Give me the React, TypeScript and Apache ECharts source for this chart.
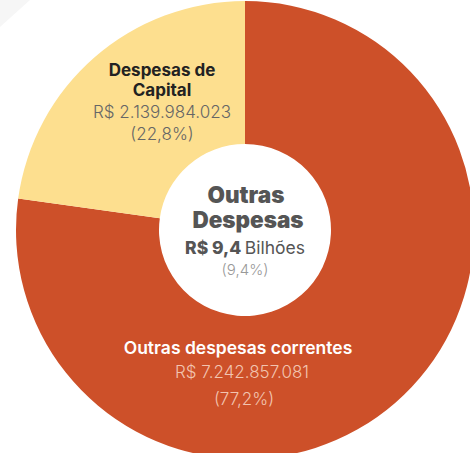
import React, { useEffect, useRef } from "react";
import * as echarts from "echarts";

const categories = ["Outras despesas correntes", "Despesas de Capital"];
const values = [7242857081, 2139984023];
const colors = ["#CD5029", "#FDDF8F"];
const centerTitle = ["Outras", "Despesas"];
const centerAmount = "R$ 9,4";
const centerUnit = "Bilhões";
const centerShare = "9,4%";

const fmtBRL = (v: number) =>
  "R$ " + String(Math.round(v)).replace(/\B(?=(\d{3})+(?!\d))/g, ".");
const total = values.reduce((a, b) => a + b, 0);
const pct = (v: number) => "(" + ((v / total) * 100).toFixed(1).replace(".", ",") + "%)";

const FONT = "Inter, 'Noto Sans', sans-serif";

export default function App() {
  const ref = useRef<HTMLDivElement>(null);
  useEffect(() => {
    if (!ref.current) return;
    const chart = echarts.init(ref.current, undefined, { renderer: "svg" });
    const text = (x: number, y: number, t: string, size: number, weight: any, fill: string) => ({
      type: "text",
      x,
      y,
      z: 100,
      silent: true,
      style: {
        text: t,
        fontSize: size,
        fontWeight: weight,
        fontFamily: FONT,
        fill,
        align: "center",
        verticalAlign: "middle",
      },
    });
    chart.setOption({
      animation: false,
      backgroundColor: "#ffffff",
      series: [
        {
          type: "pie",
          center: [245, 230],
          radius: [86, 229],
          startAngle: 90,
          clockwise: true,
          silent: true,
          z: 2,
          label: { show: false },
          labelLine: { show: false },
          emphasis: { disabled: true },
          itemStyle: { borderWidth: 0 },
          data: categories.map((c, i) => ({
            name: c,
            value: values[i],
            itemStyle: { color: colors[i] },
          })),
        },
      ],
      graphic: [
        {
          type: "polygon",
          silent: true,
          z: 0,
          shape: { points: [[0, 0], [30, 0], [0, 27]] },
          style: { fill: "#f6f6f6" },
        },
        // Despesas de Capital label
        text(162, 70, "Despesas de", 17, 700, "#222222"),
        text(162, 90, categories[1].replace("Despesas de ", ""), 17, 700, "#222222"),
        text(162, 112, fmtBRL(values[1]), 17, 300, "#666666"),
        text(162, 134, pct(values[1]), 17, 300, "#666666"),
        // Outras despesas correntes label
        text(238, 347, categories[0], 17.5, 600, "#ffffff"),
        text(242, 372, fmtBRL(values[0]), 17, 300, "#F2C4B0"),
        text(244, 399, pct(values[0]), 17, 300, "#F2C4B0"),
        // Center
        text(246, 194, centerTitle[0], 22.5, 900, "#555555"),
        text(248, 219, centerTitle[1], 22.5, 900, "#555555"),
        {
          type: "text",
          x: 245,
          y: 247,
          z: 100,
          silent: true,
          style: {
            text: "{b|" + centerAmount + "} {r|" + centerUnit + "}",
            align: "center",
            verticalAlign: "middle",
            fontFamily: FONT,
            rich: {
              b: { fontSize: 17.5, fontWeight: 800, fill: "#555555", fontFamily: FONT },
              r: { fontSize: 17.5, fontWeight: 400, fill: "#555555", fontFamily: FONT },
            },
          },
        },
        text(245, 269, "(" + centerShare + ")", 15, 300, "#999999"),
      ],
    });
    return () => chart.dispose();
  }, []);
  return (
    <div
      ref={ref}
      style={{ position: "fixed", left: 0, top: 0, width: 470, height: 453 }}
    />
  );
}
